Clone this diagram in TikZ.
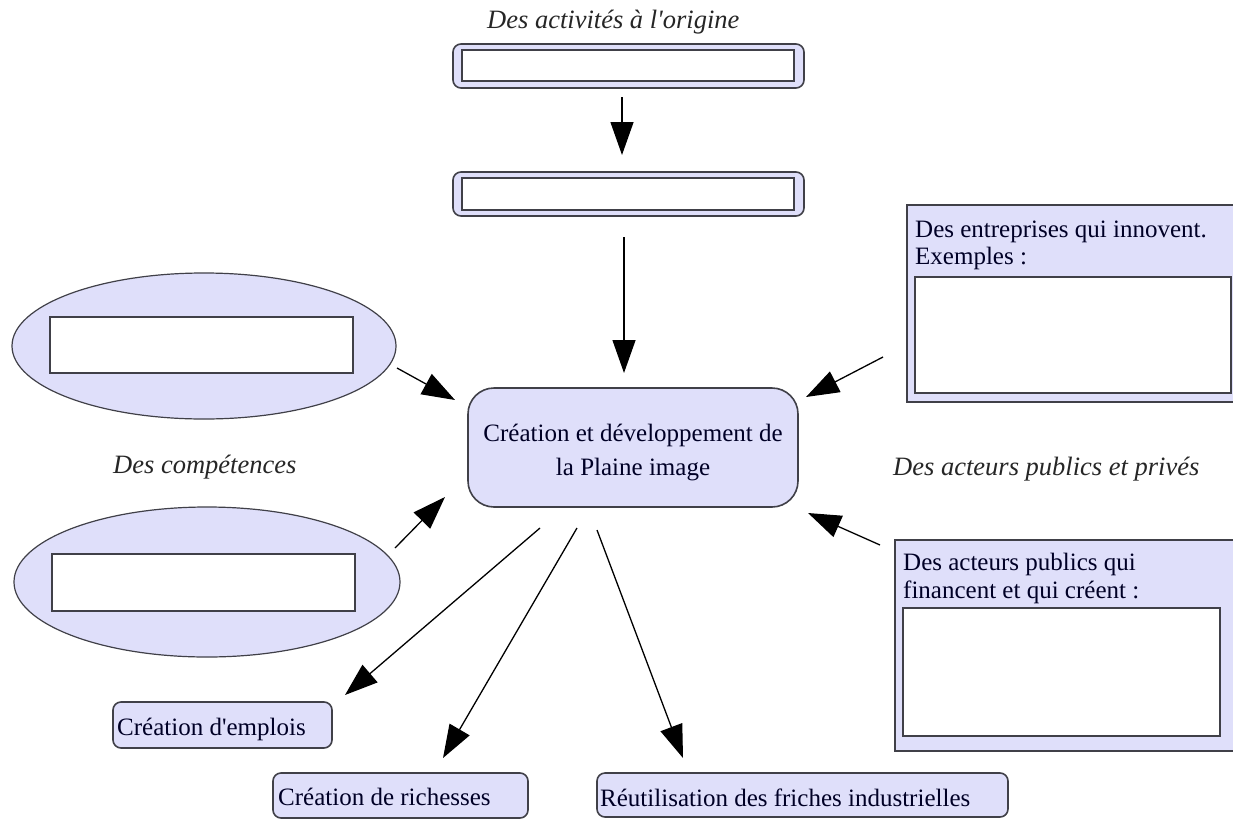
\documentclass[tikz,border=0pt]{standalone}
\usepackage{fontspec}
\setmainfont{Liberation Serif}[Ligatures=TeXOff]
\usetikzlibrary{arrows.meta,shapes.geometric,calc}
\definecolor{lav}{RGB}{223,223,250}
\definecolor{bord}{RGB}{64,64,72}
\begin{document}
\begin{tikzpicture}[x=1pt,y=-1pt,
  font=\fontsize{25}{30}\selectfont,
  lavbox/.style={draw=bord,fill=lav,line width=1.6pt,inner sep=0pt,outer sep=0pt},
  roundbox/.style={lavbox,rounded corners=8pt},
  whitebox/.style={draw=bord,fill=white,line width=1.6pt,inner sep=0pt,outer sep=0pt},
  oval/.style={ellipse,draw=bord,fill=lav,line width=1.2pt,inner sep=0pt,outer sep=0pt},
  txt/.style={anchor=base west,inner sep=0pt,text=black!85!blue},
  itxt/.style={anchor=base west,inner sep=0pt,font=\fontsize{26.5}{30}\selectfont\itshape,text=black!85},
  arr/.style={-{Triangle[length=33pt,width=23pt]},line width=1.3pt,draw=black}]
\clip (0,0) rectangle (1233,819);
\fill[white] (0,0) rectangle (1233,819);

% top boxes
\node[itxt] (t1) at (487,28) {Des activités à l'origine};
\node[roundbox,minimum width=351,minimum height=44] (o1) at (628.5,66) {};
\node[whitebox,minimum width=332,minimum height=31] (i1) at (628,65.5) {};
\node[roundbox,minimum width=351,minimum height=44] (o2) at (628.5,194) {};
\node[whitebox,minimum width=332,minimum height=32] (i2) at (628,194) {};

% centre
\node[lavbox,rounded corners=26pt,minimum width=330,minimum height=119] (c) at (633,447.5) {};
\node[txt,anchor=base] (c1) at (633,441.7) {Création et développement de};
\node[txt,anchor=base] (c2) at (633,475) {la Plaine image};

% ellipses
\node[oval,minimum width=384,minimum height=146] (e1) at (204,346) {};
\node[whitebox,minimum width=303,minimum height=56] (ie1) at (201.5,345) {};
\node[itxt] (t2) at (113,473) {Des compétences};
\node[oval,minimum width=386,minimum height=150] (e2) at (207,582) {};
\node[whitebox,minimum width=303,minimum height=57] (ie2) at (203.5,582.5) {};

% right boxes
\node[lavbox,minimum width=333,minimum height=197] (r1) at (1073.5,303.5) {};
\node[txt] (r1a) at (915,237) {Des entreprises qui innovent.};
\node[txt] (r1b) at (915,264) {Exemples :};
\node[whitebox,minimum width=316,minimum height=116] (ir1) at (1073,335) {};

\node[itxt] (t3) at (893,475) {Des acteurs publics et privés};
\node[lavbox,minimum width=345,minimum height=211] (r2) at (1067.5,645.5) {};
\node[txt] (r2a) at (903,570.7) {Des acteurs publics qui};
\node[txt] (r2b) at (903,598) {financent et qui créent :};
\node[whitebox,minimum width=317,minimum height=128] (ir2) at (1061.5,672) {};

% bottom boxes
\node[roundbox,minimum width=219,minimum height=46] (b1) at (222.5,725) {};
\node[txt] (b1t) at (117,735) {Création d'emplois};
\node[roundbox,minimum width=255,minimum height=45] (b2) at (400.5,795.5) {};
\node[txt] (b2t) at (278,805) {Création de richesses};
\node[roundbox,minimum width=411,minimum height=44] (b3) at (802.5,795) {};
\node[txt] (b3t) at (600,806.5) {Réutilisation des friches industrielles};

% connectors
\draw[arr] ($(o1.south)+(-6.5,9)$) -- ($(o2.north)+(-6.5,-17)$);
\draw[arr] ($(o2.south)+(-4.5,21)$) -- ($(c.north)+(-9,-15)$);
\draw[arr] ($(e1.east)+(1,22)$) -- ($(c.north west)+(-13,12)$);
\draw[arr] ($(e2.east)+(-5,-34)$) -- ($(c.south west)+(-23,-10)$);
\draw[arr] ($(r1.south west)+(-24,-45)$) -- ($(c.north east)+(8,9)$);
\draw[arr] ($(r2.north west)+(-15,5)$) -- ($(c.south east)+(10,6)$);
\draw[arr] ($(c.south)+(-93,21)$) -- ($(b1.north east)+(13,-7)$);
\draw[arr] ($(c.south)+(-56,21)$) -- ($(b2.north)+(42.5,-15)$);
\draw[arr] ($(c.south)+(-36,23)$) -- ($(b3.north)+(-119.5,-15)$);
\end{tikzpicture}
\end{document}
